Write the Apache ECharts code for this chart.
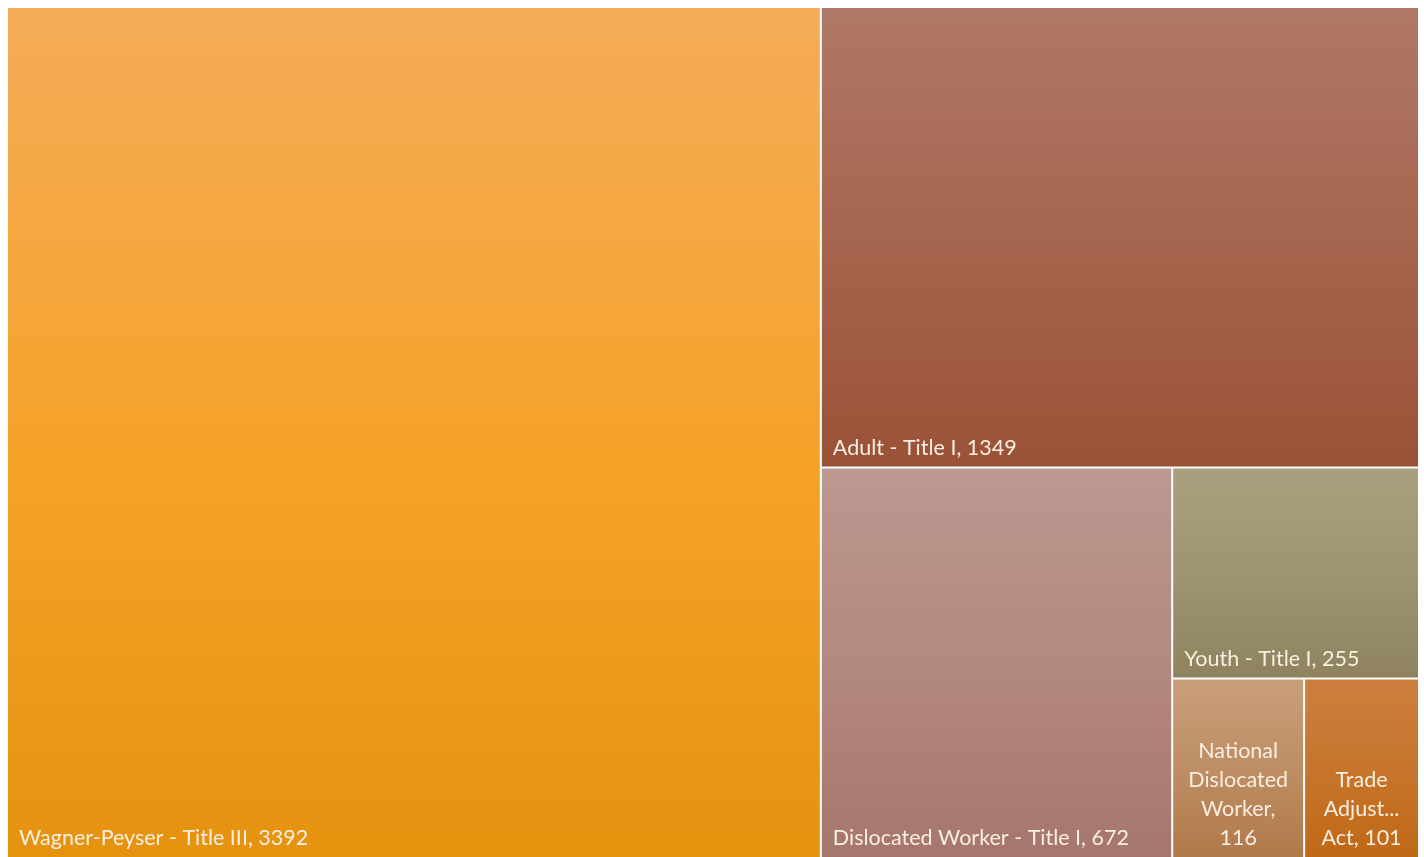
<!DOCTYPE html>
<html>
<head>
<meta charset="utf-8">
<style>
  html, body { margin: 0; padding: 0; background: #fff; }
  #main { width: 1424px; height: 857px; }
</style>
<script src="https://cdn.jsdelivr.net/npm/echarts@6/dist/echarts.min.js"></script>
</head>
<body>
<div id="main"></div>
<script>
const chart = echarts.init(document.getElementById('main'));

// programmes and participant counts
const names = [
  'Wagner-Peyser - Title III',
  'Adult - Title I',
  'Dislocated Worker - Title I',
  'Youth - Title I',
  'National Dislocated Worker',
  'Trade Adjustment Assistance Act'
];
const values = [3392, 1349, 672, 255, 116, 101];

// shown label text (Excel wraps / truncates the small ones)
const labelTexts = [
  'Wagner-Peyser - Title III, 3392',
  'Adult - Title I, 1349',
  'Dislocated Worker - Title I, 672',
  'Youth - Title I, 255',
  'National\nDislocated\nWorker,\n116',
  'Trade\nAdjust...\nAct, 101'
];

// top / middle / bottom colours of each tile's gradient
const topColors = ['#f4ac58', '#b07868', '#bc9890', '#a8a080', '#c99f7a', '#cc7f3e'];
const midColors = ['#f6a227', '#a5634c', '#b2877e', '#9c946f', '#bd8c62', '#c6742a'];
const bottomColors = ['#e5920f', '#9a5237', '#a6766c', '#8e835e', '#b0794a', '#c06816'];

function grad(i) {
  return new echarts.graphic.LinearGradient(0, 0, 0, 1, [
    { offset: 0, color: topColors[i] },
    { offset: 0.55, color: midColors[i] },
    { offset: 1, color: bottomColors[i] }
  ]);
}

const data = names.map((n, i) => {
  const small = labelTexts[i].indexOf('\n') >= 0;
  return {
    name: n,
    value: values[i],
    itemStyle: { color: grad(i) },
    label: small
      ? { position: 'insideBottom', align: 'center', distance: 4, padding: 0 }
      : { position: 'insideBottomLeft', distance: 4, padding: [0, 0, 0, 7] }
  };
});

chart.setOption({
  series: [{
    type: 'treemap',
    left: 8,
    top: 8,
    right: 6,
    bottom: 0,
    roam: false,
    nodeClick: false,
    squareRatio: 1,
    breadcrumb: { show: false },
    sort: 'desc',
    label: {
      show: true,
      color: '#f8efe2',
      fontFamily: 'Lato',
      fontSize: 21.5,
      lineHeight: 29,
      overflow: 'none',
      formatter: function (p) {
        return labelTexts[names.indexOf(p.name)];
      }
    },
    itemStyle: {
      borderColor: '#fff',
      borderWidth: 0,
      gapWidth: 2
    },
    levels: [{ itemStyle: { borderWidth: 0, gapWidth: 2 } }],
    data: data
  }]
});
</script>
</body>
</html>
